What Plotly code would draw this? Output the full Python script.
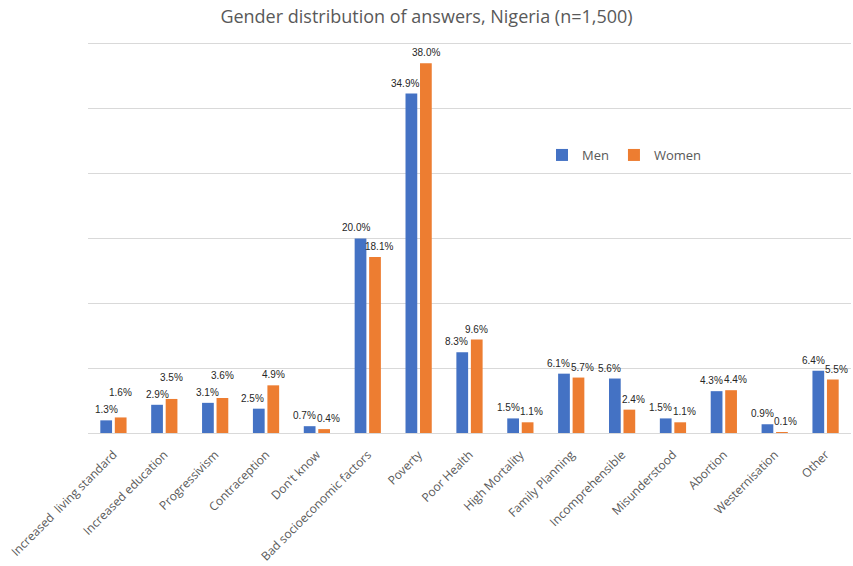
import plotly.graph_objects as go
import numpy as np

categories = ["Increased  living standard", "Increased education", "Progressivism",
              "Contraception", "Don't know", "Bad socioeconomic factors", "Poverty",
              "Poor Health", "High Mortality", "Family Planning", "Incomprehensible",
              "Misunderstood", "Abortion", "Westernisation", "Other"]
men = [1.3, 2.9, 3.1, 2.5, 0.7, 20.0, 34.9, 8.3, 1.5, 6.1, 5.6, 1.5, 4.3, 0.9, 6.4]
women = [1.6, 3.5, 3.6, 4.9, 0.4, 18.1, 38.0, 9.6, 1.1, 5.7, 2.4, 1.1, 4.4, 0.1, 5.5]
series_names = ["Men", "Women"]
colors = ["#4472C4", "#ED7D31"]

W, H = 853, 566
YMAX = 40
YTOP = 40.4
PPU = 389 / YMAX
ML, MR = 88, 2
MB = 566 - 433
MT = 44 - int(round((YTOP - YMAX) * PPU))
BARGAP, GROUPGAP = 0.43, 0.19

fig = go.Figure()
for name, vals, col in zip(series_names, [men, women], colors):
    fig.add_trace(go.Bar(x=categories, y=vals, name=name, marker_color=col,
                         marker_line_width=0))

# label placement derived from bar geometry (simple collision avoidance)
pw = W - ML - MR
catw = pw / len(categories)
slot = (1 - BARGAP) * catw / 2
annotations = []
for c, m, w in zip(categories, men, women):
    d = (w - m) * PPU
    mx, wx = -slot / 2, slot / 2
    my, wy = 3, 3
    if 2.5 <= d < 12:
        wy += 17 - d
    elif d >= 12:
        mx -= 6
    else:
        mx -= 5
        wx += 4
    for v, xs, ys in [(m, mx, my), (w, wx, wy)]:
        annotations.append(dict(x=c, y=v, xref="x", yref="y", text=f"{v:.1f}%",
                                showarrow=False, xshift=xs, yshift=ys, yanchor="bottom",
                                font=dict(family="Liberation Sans, Arial", size=10,
                                          color="#262626")))

fig.update_layout(
    width=W, height=H,
    margin=dict(l=ML, r=MR, t=MT, b=MB, autoexpand=False),
    paper_bgcolor="white", plot_bgcolor="white",
    barmode="group", bargap=BARGAP, bargroupgap=GROUPGAP,
    title=dict(text="Gender distribution of answers, Nigeria (n=1,500)",
               x=0.5, xref="container", y=1 - 17 / H, yref="container", yanchor="middle",
               font=dict(family="Open Sans", size=18, color="#595959")),
    legend=dict(orientation="h", x=0.595, y=(433 - 155) / (433 - MT), xanchor="left",
                yanchor="middle",
                font=dict(family="Open Sans", size=13, color="#595959"),
                bgcolor="rgba(0,0,0,0)"),
    annotations=annotations,
    showlegend=True,
)
fig.update_xaxes(tickangle=-45, tickfont=dict(family="Open Sans", size=12, color="#595959"),
                 showline=True, linecolor="#D9D9D9", linewidth=1, ticks="",
                 ticklabelstandoff=9, showgrid=False, automargin=False)
fig.update_yaxes(range=[0, YTOP], tickvals=list(np.linspace(0, YMAX, 7)),
                 showticklabels=False, showgrid=True, gridcolor="#D9D9D9",
                 gridwidth=1, zeroline=False, automargin=False)

fig.write_html("out.html", config={"displayModeBar": False},
               post_script="document.body.style.margin='0px';")
